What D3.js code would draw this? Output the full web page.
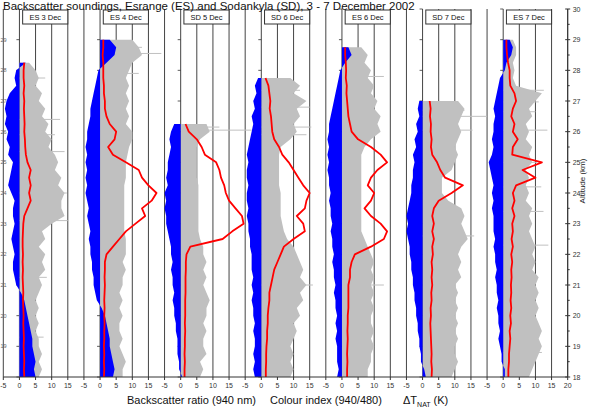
<!DOCTYPE html>
<html>
<head>
<meta charset="utf-8">
<script src="https://cdn.jsdelivr.net/npm/d3@7"></script>
<style>
  body { margin: 0; background: #fff; }
  text { font-family: "Liberation Sans", Arial, sans-serif; }
</style>
</head>
<body>
<svg id="chart" width="594" height="410"></svg>
<script>
// Panels (one sounding each)
const panelNames = ["ES 3 Dec", "ES 4 Dec", "SD 5 Dec", "SD 6 Dec", "ES 6 Dec", "SD 7 Dec", "ES 7 Dec"];
// top altitude of each sounding (km); values below go down in 0.25 km steps to 18 km
const tops = [28.25, 29, 26.25, 27.75, 28.75, 27, 29];

// Backscatter ratio (940 nm), grey
const backscatter = [
  [3, 5, 6, 5, 7, 6, 8, 7, 9, 8, 10, 9, 11, 12, 11, 13, 12, 14, 13, 13, 14, 10, 7, 8, 6, 8, 7, 8, 6, 7, 6, 5, 6, 5, 6, 5, 6, 6, 7, 6, 7, 6],
  [10, 12, 13, 10, 9, 8, 9, 8, 9, 8, 9, 8, 10, 10, 9, 8.5, 8, 8, 8, 7.5, 7.5, 7.5, 7.5, 7.5, 7.5, 7.5, 8, 8, 8, 7, 8, 7, 7, 6, 7, 6, 7, 6, 6, 7, 6, 7, 8, 7, 7],
  [8, 9, 6, 5, 5, 5, 5, 5, 5.5, 5.5, 5.5, 5.5, 5.5, 5.5, 5.5, 6, 7, 7, 8, 7, 8, 7, 8, 9, 8, 8, 7, 8, 7, 7, 8, 6, 7, 6],
  [9, 12, 10, 14, 11, 12, 10, 11, 9, 6, 5.5, 5.5, 5.5, 5.5, 5.5, 6, 6, 6, 6, 6.5, 7, 8, 10, 11, 12, 13, 12, 14, 12, 13, 11, 12, 10, 11, 10, 9, 10, 9, 10, 9],
  [6, 8, 7, 9, 8, 10, 9, 11, 10, 12, 11, 12, 9, 7, 6, 6, 6, 6, 6, 6, 6, 6, 6, 6, 6, 7, 8, 9, 10, 9, 10, 9, 10, 9, 10, 9, 9, 10, 9, 10, 9, 9, 8, 8],
  [11, 13, 12, 11, 12, 11, 10, 11, 10, 9, 6, 6, 6, 8, 12, 13, 12, 13, 14, 12, 11, 12, 11, 12, 10, 11, 10, 11, 10, 11, 10, 11, 10, 10, 11, 10, 9],
  [3, 4, 4, 3, 3.5, 3, 4, 12, 10, 8, 9, 7, 8, 7, 9, 8, 9, 7, 8, 7, 8, 7, 9, 8, 9, 8, 9, 10, 9, 10, 9, 11, 10, 11, 10, 11, 10, 11, 12, 11, 12, 11, 10, 9, 8]
];

// Colour index (940/480), blue
const colourIndex = [
  [2, -1, -1.5, -1, -3, -4, -4.5, -4, -4.5, -3.5, -4, -3, -3.5, -2, -2.5, -3, -3.5, -2.5, -1.5, -2, -2, -1.5, -2, -2.5, -2, -1.5, -2, -2, -1.5, -1, 0.5, 1.5, 2, 2.5, 3, 3.5, 4, 4, 4.5, 5, 4.5, 5],
  [3, 5, 4.5, 2, -0.5, -1, -1.5, -2, -2.5, -3, -3, -3.5, -4, -4, -4.5, -4, -4.5, -4, -4.5, -4, -4.5, -4, -3.5, -4, -3.5, -3, -3.5, -3, -3, -2.5, -2.5, -2, -2, -1.5, -1, 0.5, 1.5, 2, 2.5, 3, 3, 3.5, 4, 4.5, 4],
  [-2, -3, -3.5, -3, -3.5, -4, -4, -4.5, -4, -5, -4.5, -5, -4.5, -4.5, -4, -3.5, -3, -3, -2.5, -3, -2.5, -2.5, -2, -2.5, -2, -2, -1.5, -1.5, -1, -1, -1, -0.5, -0.5, 0.5],
  [-1, -2, -1.5, -2.5, -2, -3, -2.5, -3, -3.5, -4, -4.5, -4, -4.5, -4.5, -4, -4.5, -4.5, -4, -4.5, -4, -4, -3.5, -3.5, -3, -3, -3, -2.5, -3, -2.5, -3, -2.5, -2.5, -2, -2.5, -2, -2, -2.5, -2, -2.5, -2],
  [2, 3, 1, -0.5, -1, -1.5, -2, -2.5, -3, -3.5, -4, -4, -4.5, -4, -4.5, -4, -4.5, -4, -4, -3.5, -4, -3.5, -3.5, -3, -3.5, -3, -3, -2.5, -3, -2.5, -2.5, -2, -2.5, -2, -2, -1.5, -2, -1.5, -2, -1.5, -1.5, -1.5, -1, -1.5],
  [-1, -1.5, -1, -2, -1.5, -2.5, -2, -3, -2.5, -3, -3, -3.5, -3.5, -4, -4.5, -5, -4.5, -5, -4.5, -4, -4, -3.5, -3.5, -3, -3, -2.5, -2.5, -2, -2, -1.5, -1.5, -1, -1, -0.5, -0.5, 0.5, 1],
  [2, 3, 2.5, 1, 0.5, -1, -1.5, -2, -2.5, -3, -2.5, -3, -3, -3.5, -3, -3.5, -4.5, -4, -3.5, -3, -3.5, -3, -3.5, -3, -3, -3, -2.5, -3, -2.5, -2.5, -2, -2.5, -2, -2, -1.5, -2, -1.5, -1.5, -1, -1.5, -1, -0.5, -0.5, 0.5, 0.5]
];

// Delta T_NAT (K), red
const deltaTnat = [
  [1.5, 1.3, 1.3, 1.5, 1.3, 1.5, 1.4, 1.5, 1.6, 1.5, 1.7, 1.8, 2, 2.5, 3.5, 3, 3.5, 3, 3.5, 2.5, 1.5, 1.2, 1.1, 1, 1, 1.1, 1, 1.1, 1, 1.1, 1.2, 1.1, 1.2, 1.3, 1.2, 1.3, 1.4, 1.3, 1.4, 1.5, 1.4, 1.5],
  [1, 1, 0.8, 1, 1, 1, 1.2, 1.2, 1.5, 1.5, 2, 3, 5, 4.5, 2.5, 4, 8, 12, 13, 15, 17.5, 16, 13, 14, 11, 8, 6, 4, 2, 1.5, 1.5, 1.4, 1.5, 1.4, 1.3, 1.4, 1.3, 1.4, 1.3, 1.3, 1.2, 1.3, 1.2, 1.3, 1.2],
  [1.5, 2.5, 5, 6.5, 7.5, 11, 12, 12.5, 13.5, 14, 15, 17, 19, 19.5, 16, 13, 3, 1.8, 1.6, 1.6, 1.5, 1.5, 1.5, 1.4, 1.4, 1.4, 1.3, 1.4, 1.3, 1.3, 1.2, 1.3, 1.2, 1.2],
  [1.3, 2.2, 2.5, 2.8, 2.6, 3, 3.2, 3.4, 4, 5.5, 6.5, 8.5, 10, 11.5, 13, 15, 14, 13.5, 11, 13, 13.5, 10, 7, 6, 5, 4, 3.5, 3, 2.5, 2.5, 2.2, 2, 2, 1.8, 1.8, 1.6, 1.5, 1.5, 1.4, 1.4],
  [1, 1, 1.2, 1.3, 1.2, 1.5, 1.4, 1.6, 1.8, 2, 2.5, 3, 5, 9, 12, 14, 11, 9, 8, 10, 9, 7, 9, 12, 14, 13, 9, 4, 3, 2.5, 2.5, 2, 2, 2, 2, 1.8, 1.8, 1.7, 1.8, 1.7, 1.6, 1.7, 1.6, 1.6],
  [2.2, 2.5, 2.3, 2.6, 2.5, 2.8, 2.6, 3, 4.5, 5.5, 7, 12.5, 9, 5, 3.5, 3, 3.5, 3, 3.5, 3, 3.2, 2.8, 3, 2.8, 3, 2.7, 2.8, 2.5, 2.6, 2.4, 2.5, 2.6, 2.7, 2.8, 2.7, 2.9, 2.8],
  [1, 1, 1.2, 1.5, 2, 2, 2.2, 3.5, 4, 3, 2.5, 3.5, 3, 4.5, 3, 2.8, 12, 6, 10, 4, 3, 3.5, 2.8, 3.5, 2.8, 3, 2.6, 3, 2.5, 2.8, 2.5, 2.6, 2.4, 2.5, 2.3, 2.5, 2.2, 2.4, 2, 2.2, 2, 1.8, 1.8, 1.6, 1.6]
];

// thin backscatter spikes [altitude, value] per panel
const spikes = [
  [[27.75, 8], [26.4, 12.6], [25.9, 11], [25.35, 14], [24.0, 14.7], [23.1, 15], [21.25, 8.5], [19.3, 7.5]],
  [[28.55, 19], [28.75, 13], [27.9, 12]],
  [[26.05, 22], [26.15, 12]],
  [[27.35, 12], [26.8, 15], [26.15, 15.5], [25.9, 14], [21.0, 16]],
  [[27.8, 13], [21.0, 13]],
  [[26.5, 20], [26.7, 13], [26.05, 15.5], [22.6, 16]],
  [[27.35, 12.6], [26.97, 11], [26.65, 10], [26.05, 13.7], [25.0, 10.5], [24.2, 11.8], [23.4, 12.5], [22.3, 14], [18.8, 12]]
];

const xTicks = [-5, 0, 5, 10, 15];
const gridValues = [0, 5, 10, 15, 20];
const altTicks = d3.range(18, 31, 1);
const altMinor = d3.range(18.5, 30, 1);

const dimensions = { left: 3.3, right: 567.7, top: 9, bottom: 377 };
const panelW = (dimensions.right - dimensions.left) / panelNames.length;
const svg = d3.select("#chart");

const yScale = d3.scaleLinear().domain([18, 30]).range([dimensions.bottom, dimensions.top]);

const gridColor = "#444";
const tickColor = "#333";

panelNames.forEach((name, p) => {
  const xScale = d3
    .scaleLinear()
    .domain([-5, 20])
    .range([dimensions.left + p * panelW, dimensions.left + (p + 1) * panelW]);
  const g = svg.append("g").attr("class", "panel");
  const altY = (_, i) => yScale(tops[p] - 0.25 * i);

  // grid lines
  g.selectAll(".grid")
    .data(p === 0 ? [-5].concat(gridValues) : gridValues)
    .join("line")
    .attr("class", "grid")
    .attr("x1", (d) => xScale(d))
    .attr("x2", (d) => xScale(d))
    .attr("y1", dimensions.top)
    .attr("y2", dimensions.bottom)
    .attr("stroke", gridColor)
    .attr("stroke-width", 1);

  // y ticks at the zero line
  g.selectAll(".ytick")
    .data(altTicks)
    .join("line")
    .attr("class", "ytick")
    .attr("x1", xScale(0) - 3)
    .attr("x2", xScale(0))
    .attr("y1", (d) => yScale(d))
    .attr("y2", (d) => yScale(d))
    .attr("stroke", tickColor)
    .attr("stroke-width", 0.8);

  if (p === 0) {
    g.selectAll(".ylab")
      .data(altTicks.slice(1, -1))
      .join("text")
      .attr("class", "ylab")
      .attr("x", 0.5)
      .attr("y", (d) => yScale(d) + 2)
      .attr("font-size", 5.5)
      .attr("fill", "#666")
      .text((d) => d);
  }

  const area = d3
    .area()
    .y(altY)
    .x0(xScale(0))
    .x1((d) => xScale(d));

  // backscatter area
  g.append("path")
    .attr("d", area(backscatter[p]))
    .attr("fill", "#c0c0c0");

  g.selectAll(".spike")
    .data(spikes[p])
    .join("line")
    .attr("class", "spike")
    .attr("x1", xScale(0))
    .attr("x2", (d) => xScale(d[1]))
    .attr("y1", (d) => yScale(d[0]))
    .attr("y2", (d) => yScale(d[0]))
    .attr("stroke", "#c0c0c0")
    .attr("stroke-width", 1);

  // colour index area
  g.append("path")
    .attr("d", area(colourIndex[p]))
    .attr("fill", "#0000ff");

  // delta T_NAT line
  const line = d3
    .line()
    .x((d) => xScale(d))
    .y(altY);
  g.append("path")
    .attr("d", line(deltaTnat[p]))
    .attr("fill", "none")
    .attr("stroke", "#ff0000")
    .attr("stroke-width", 1.8)
    .attr("stroke-linejoin", "round");

  // bottom ticks
  const ticks = p === panelNames.length - 1 ? xTicks.concat([20]) : xTicks;
  g.selectAll(".xtick")
    .data(ticks)
    .join("line")
    .attr("class", "xtick")
    .attr("x1", (d) => xScale(d))
    .attr("x2", (d) => xScale(d))
    .attr("y1", dimensions.bottom)
    .attr("y2", dimensions.bottom + 3)
    .attr("stroke", tickColor);
  g.selectAll(".xlab")
    .data(ticks)
    .join("text")
    .attr("class", "xlab")
    .attr("x", (d) => xScale(d))
    .attr("y", dimensions.bottom + 11)
    .attr("text-anchor", "middle")
    .attr("font-size", 7)
    .attr("fill", "#333")
    .text((d) => d);

  // panel label box
  g.append("rect")
    .attr("x", xScale(1))
    .attr("y", 10)
    .attr("width", xScale(15) - xScale(1))
    .attr("height", 14)
    .attr("fill", "#fff")
    .attr("stroke", "#333")
    .attr("stroke-width", 1);
  g.append("text")
    .attr("x", xScale(8))
    .attr("y", 20)
    .attr("text-anchor", "middle")
    .attr("font-size", 7.5)
    .attr("fill", "#111")
    .text(name);
});

// bottom axis line
svg.append("line")
  .attr("x1", dimensions.left)
  .attr("x2", dimensions.right)
  .attr("y1", dimensions.bottom)
  .attr("y2", dimensions.bottom)
  .attr("stroke", tickColor);

// right altitude axis
const yAxis = svg.append("g").attr("class", "y-axis");
yAxis.append("line")
  .attr("x1", dimensions.right)
  .attr("x2", dimensions.right)
  .attr("y1", dimensions.top)
  .attr("y2", dimensions.bottom)
  .attr("stroke", tickColor);
yAxis.selectAll(".major")
  .data(altTicks)
  .join("line")
  .attr("class", "major")
  .attr("x1", dimensions.right - 2.5)
  .attr("x2", dimensions.right + 2.5)
  .attr("y1", (d) => yScale(d))
  .attr("y2", (d) => yScale(d))
  .attr("stroke", tickColor);
yAxis.selectAll(".minor")
  .data(altMinor)
  .join("line")
  .attr("class", "minor")
  .attr("x1", dimensions.right)
  .attr("x2", dimensions.right + 2)
  .attr("y1", (d) => yScale(d))
  .attr("y2", (d) => yScale(d))
  .attr("stroke", tickColor);
yAxis.selectAll("text")
  .data(altTicks)
  .join("text")
  .attr("x", dimensions.right + 5)
  .attr("y", (d) => yScale(d) + 2.5)
  .attr("font-size", 7)
  .attr("fill", "#333")
  .text((d) => d);
svg.append("text")
  .attr("transform", `translate(585,${(dimensions.top + dimensions.bottom) / 2 - 12}) rotate(-90)`)
  .attr("text-anchor", "middle")
  .attr("font-size", 8)
  .attr("fill", "#222")
  .text("Altitude (km)");

// titles
svg.append("text")
  .attr("x", 3)
  .attr("y", 10.4)
  .attr("font-size", 11.5)
  .attr("fill", "#111")
  .text("Backscatter soundings, Esrange (ES) and Sodankyla (SD), 3 - 7 December 2002");

svg.append("text")
  .attr("x", 127)
  .attr("y", 404)
  .attr("font-size", 11)
  .attr("fill", "#111")
  .text("Backscatter ratio (940 nm)");
svg.append("text")
  .attr("x", 270)
  .attr("y", 404)
  .attr("font-size", 11)
  .attr("fill", "#111")
  .text("Colour index (940/480)");
const dt = svg.append("text")
  .attr("x", 403)
  .attr("y", 404)
  .attr("font-size", 11)
  .attr("fill", "#111");
dt.append("tspan").text("\u0394T");
dt.append("tspan").attr("font-size", 7).attr("dy", 3).text("NAT");
dt.append("tspan").attr("dy", -3).text(" (K)");
</script>
</body>
</html>
